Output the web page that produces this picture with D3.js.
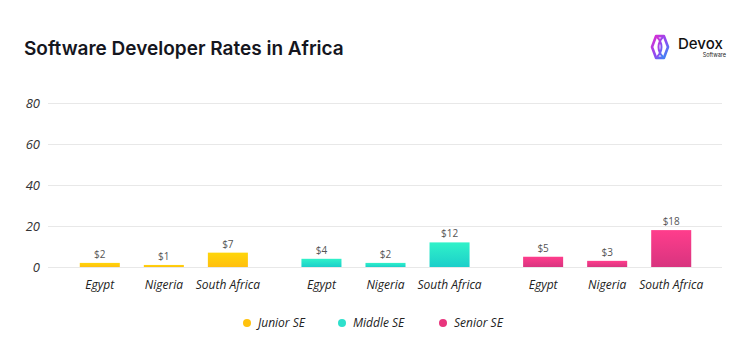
<!DOCTYPE html>
<html>
<head>
<meta charset="utf-8">
<script src="https://cdn.jsdelivr.net/npm/d3@7"></script>
<style>
  body { margin: 0; background: #fff; }
  svg { display: block; }
</style>
</head>
<body>
<div class="chart"></div>
<script>
// chart data
var countries = ['Egypt', 'Nigeria', 'South Africa'];
var levels = ['Junior SE', 'Middle SE', 'Senior SE'];
var juniorRates = [2, 1, 7];
var middleRates = [4, 2, 12];
var seniorRates = [5, 3, 18];
var yTicks = [0, 20, 40, 60, 80];

var seriesRates = [juniorRates, middleRates, seniorRates];
var colors = [
  {top: '#ffd60a', bottom: '#ffbf0f', dot: '#ffc20e'},
  {top: '#30f2c9', bottom: '#1ccfca', dot: '#2ee0cc'},
  {top: '#ff3d8c', bottom: '#d8347f', dot: '#e8357d'}
];

var width = 750, height = 363;
var margin = {top: 103, right: 28, bottom: 96, left: 48};

var svg = d3.select('.chart').append('svg')
  .attr('width', width)
  .attr('height', height);

var defs = svg.append('defs');
colors.forEach(function(c, i) {
  var g = defs.append('linearGradient')
    .attr('id', 'grad' + i)
    .attr('x1', 0).attr('y1', 0).attr('x2', 0).attr('y2', 1);
  g.append('stop').attr('offset', '0%').attr('stop-color', c.top);
  g.append('stop').attr('offset', '100%').attr('stop-color', c.bottom);
});

// title
svg.append('text')
  .attr('x', 24)
  .attr('y', 55)
  .style('font-family', 'Inter, sans-serif')
  .style('font-weight', 600)
  .style('font-size', '19px')
  .style('fill', '#15161e')
  .text('Software Developer Rates in Africa');

// logo
var logo = svg.append('g').attr('transform', 'translate(660, 47)');
var lg = defs.append('linearGradient').attr('id', 'logoGrad')
  .attr('x1', 0).attr('y1', 0).attr('x2', 1).attr('y2', 1);
lg.append('stop').attr('offset', '0%').attr('stop-color', '#e02ad0');
lg.append('stop').attr('offset', '55%').attr('stop-color', '#8a4df2');
lg.append('stop').attr('offset', '100%').attr('stop-color', '#2f8ff5');
var hex = d3.range(6).map(function(k) {
  var a = Math.PI / 3 * k;
  return [Math.cos(a) * 8, Math.sin(a) * 12.5];
});
logo.append('path')
  .attr('d', 'M' + hex.join('L') + 'Z')
  .style('fill', 'none')
  .style('stroke', 'url(#logoGrad)')
  .style('stroke-width', 2.6)
  .style('stroke-linejoin', 'round');
logo.append('path')
  .attr('d', 'M-3,-10 C3,-4 3,4 -3,10 M3,-10 C-3,-4 -3,4 3,10')
  .style('fill', 'none')
  .style('stroke', 'url(#logoGrad)')
  .style('stroke-width', 2);
logo.append('text')
  .attr('x', 18).attr('y', 2)
  .style('font-family', 'Inter, sans-serif')
  .style('font-weight', 500)
  .style('font-size', '15px')
  .style('fill', '#111')
  .text('Devox');
logo.append('text')
  .attr('x', 66).attr('y', 10)
  .attr('text-anchor', 'end')
  .style('font-family', 'Inter, sans-serif')
  .style('font-size', '5.5px')
  .style('fill', '#222')
  .text('Software');

var y = d3.scaleLinear()
  .domain([0, 80])
  .range([height - margin.bottom, margin.top]);

var x0 = d3.scaleBand()
  .domain(levels)
  .range([53, 718]);

var x1 = d3.scaleBand()
  .domain(countries)
  .range([0, x0.bandwidth()])
  .paddingInner(0.375)
  .paddingOuter(0.418);

// gridlines
svg.append('g').selectAll('line')
  .data(yTicks)
  .enter().append('line')
    .attr('x1', margin.left)
    .attr('x2', width - margin.right)
    .attr('y1', function(d) { return y(d) + 0.5; })
    .attr('y2', function(d) { return y(d) + 0.5; })
    .style('stroke', '#e8e8e8')
    .style('stroke-width', 1);

var yAxis = svg.append('g')
  .attr('transform', 'translate(' + 40 + ',0)')
  .call(d3.axisLeft(y).tickValues(yTicks).tickSize(0).tickPadding(0));
yAxis.select('.domain').remove();
yAxis.selectAll('text')
  .style('font-family', '"Open Sans", sans-serif')
  .style('font-style', 'italic')
  .style('font-size', '13px')
  .style('fill', '#333');

// bars
var groups = svg.append('g').selectAll('g')
  .data(levels)
  .enter().append('g')
    .attr('transform', function(d) { return 'translate(' + x0(d) + ',0)'; });

groups.each(function(level, i) {
  var g = d3.select(this);
  var vals = seriesRates[i].map(function(v, j) { return {country: countries[j], value: v}; });

  g.selectAll('rect')
    .data(vals)
    .enter().append('rect')
      .attr('x', function(d) { return x1(d.country); })
      .attr('width', x1.bandwidth())
      .attr('y', function(d) { return y(d.value); })
      .attr('height', function(d) { return y(0) - y(d.value); })
      .style('fill', 'url(#grad' + i + ')');

  g.selectAll('.val')
    .data(vals)
    .enter().append('text')
      .attr('class', 'val')
      .attr('x', function(d) { return x1(d.country) + x1.bandwidth() / 2; })
      .attr('y', function(d) { return y(d.value) - 5; })
      .attr('text-anchor', 'middle')
      .style('font-family', '"Open Sans", sans-serif')
      .style('font-size', '10px')
      .style('fill', '#555')
      .text(function(d) { return '$' + d.value; });

  var xAxis = g.append('g')
    .attr('transform', 'translate(0,' + (y(0) + 13) + ')')
    .call(d3.axisBottom(x1).tickSize(0).tickPadding(0));
  xAxis.select('.domain').remove();
  xAxis.selectAll('text')
    .style('font-family', '"Open Sans", sans-serif')
    .style('font-style', 'italic')
    .style('font-size', '12px')
    .style('fill', '#222');
});

// legend
var legendX = [247, 342, 443];
var legend = svg.append('g').selectAll('g')
  .data(levels)
  .enter().append('g')
    .attr('transform', function(d, i) { return 'translate(' + legendX[i] + ',323)'; });
legend.append('circle')
  .attr('r', 4)
  .style('fill', function(d, i) { return colors[i].dot; });
legend.append('text')
  .attr('x', 11)
  .attr('dy', '0.35em')
  .style('font-family', '"Open Sans", sans-serif')
  .style('font-style', 'italic')
  .style('font-size', '12px')
  .style('fill', '#222')
  .text(function(d) { return d; });
</script>
</body>
</html>
